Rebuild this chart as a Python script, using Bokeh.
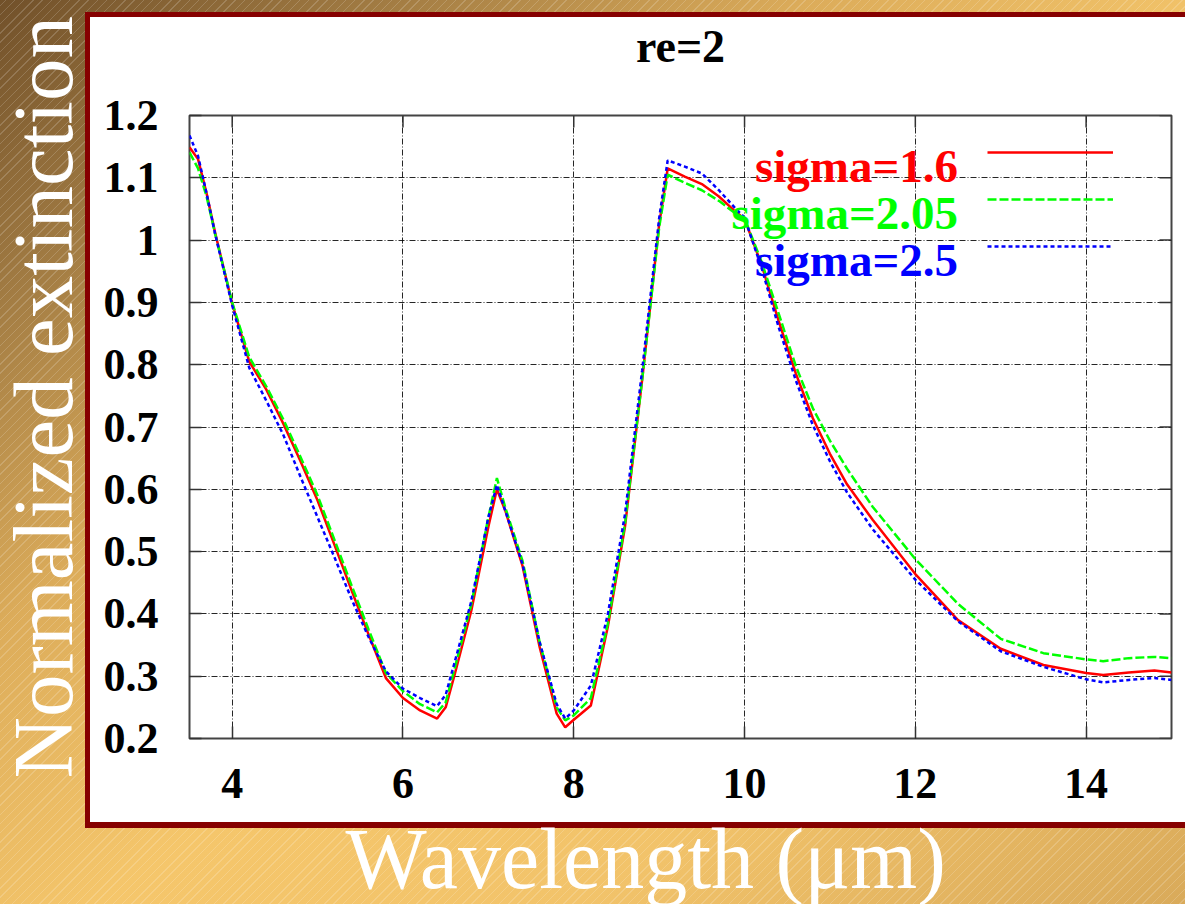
import math
from bokeh.plotting import figure
from bokeh.models import (ColumnDataSource, FixedTicker, PrintfTickFormatter,
                          Legend, LegendItem, Label, Title)
from bokeh.embed import file_html
from bokeh.resources import INLINE

# Normalized extinction spectra for effective radius re=2 and three size-distribution widths
wavelength = [3.5, 3.6, 3.7, 3.8, 4.0, 4.2, 4.4, 4.6, 4.8, 5.0, 5.2, 5.4, 5.6, 5.8,
              6.0, 6.2, 6.4, 6.5, 6.6, 6.8, 7.0, 7.1, 7.2, 7.4, 7.6, 7.8, 7.9,
              8.0, 8.2, 8.4, 8.6, 8.8, 9.0, 9.1, 9.3, 9.5, 9.7, 9.9,
              10.0, 10.2, 10.4, 10.6, 10.8, 11.0, 11.2, 11.5, 12.0, 12.5, 13.0, 13.5,
              14.0, 14.2, 14.5, 14.8, 15.0]

ext_sigma_1_6 = [1.149, 1.130, 1.075, 1.012, 0.898, 0.805, 0.760, 0.705, 0.645, 0.582,
                 0.510, 0.437, 0.366, 0.297, 0.265, 0.245, 0.232, 0.250, 0.300, 0.405,
                 0.540, 0.600, 0.565, 0.477, 0.347, 0.240, 0.218, 0.230, 0.253, 0.380,
                 0.540, 0.775, 1.025, 1.115, 1.102, 1.090, 1.070, 1.045, 1.034, 0.960,
                 0.870, 0.786, 0.714, 0.657, 0.608, 0.551, 0.464, 0.390, 0.344, 0.318,
                 0.305, 0.302, 0.306, 0.309, 0.306]

ext_sigma_2_05 = [1.141, 1.115, 1.070, 1.010, 0.900, 0.812, 0.765, 0.712, 0.652, 0.590,
                  0.518, 0.445, 0.374, 0.305, 0.276, 0.255, 0.242, 0.258, 0.310, 0.415,
                  0.555, 0.618, 0.570, 0.485, 0.355, 0.250, 0.229, 0.237, 0.265, 0.385,
                  0.545, 0.775, 1.020, 1.105, 1.092, 1.080, 1.063, 1.042, 1.035, 0.965,
                  0.882, 0.798, 0.730, 0.678, 0.633, 0.572, 0.488, 0.416, 0.360, 0.337,
                  0.327, 0.324, 0.329, 0.331, 0.329]

ext_sigma_2_5 = [1.168, 1.135, 1.075, 1.010, 0.895, 0.795, 0.742, 0.687, 0.620, 0.555,
                 0.490, 0.423, 0.362, 0.308, 0.280, 0.265, 0.252, 0.270, 0.320, 0.420,
                 0.555, 0.607, 0.565, 0.480, 0.355, 0.255, 0.232, 0.245, 0.285, 0.400,
                 0.560, 0.790, 1.035, 1.128, 1.118, 1.107, 1.080, 1.050, 1.036, 0.955,
                 0.860, 0.775, 0.703, 0.645, 0.595, 0.536, 0.455, 0.388, 0.340, 0.315,
                 0.295, 0.290, 0.294, 0.297, 0.294]

series_labels = ["sigma=1.6", "sigma=2.05", "sigma=2.5"]
series_colors = ["#ff0000", "#00ff00", "#0000ff"]
series_dashes = ["solid", "9 3", "4 3"]

x_ticks = [4, 6, 8, 10, 12, 14]
y_ticks = [0.2, 0.3, 0.4, 0.5, 0.6, 0.7, 0.8, 0.9, 1.0, 1.1, 1.2]

title_text = "re=2"
x_title = "Wavelength (\u03bcm)"
y_title = "Normalized extinction"

SERIF = "Liberation Serif"

# the canvas is a little larger than the window and pulled up/left,
# so the big axis titles can run off the edges
SHIFT_X, SHIFT_Y = 20, 30

source = ColumnDataSource(dict(wl=wavelength, s16=ext_sigma_1_6,
                               s205=ext_sigma_2_05, s25=ext_sigma_2_5))

p = figure(width=1185 + SHIFT_X, height=904 + SHIFT_Y,
           x_range=(3.5, 15), y_range=(0.2, 1.2),
           output_backend="svg", toolbar_location=None,
           min_border_left=189 + SHIFT_X, min_border_right=14,
           min_border_top=115 + SHIFT_Y, min_border_bottom=166)

card = f"{90 + SHIFT_X}px {17 + SHIFT_Y}px / 1200px 805px no-repeat"
rim = f"{85 + SHIFT_X}px {12 + SHIFT_Y}px / 1200px 816px no-repeat"
p.styles = {
    "margin-left": f"-{SHIFT_X}px",
    "margin-top": f"-{SHIFT_Y}px",
    "background": (
        f"linear-gradient(#ffffff, #ffffff) {card}, "
        f"linear-gradient(#860000, #860000) {rim}, "
        "repeating-linear-gradient(135deg, rgba(255,255,255,0.17) 0px, "
        "rgba(255,255,255,0.17) 1px, rgba(255,255,255,0) 1px, rgba(255,255,255,0) 6.5px), "
        "linear-gradient(to bottom right, #6a4a26 0%, #a07a42 18%, #dcac5a 36%, "
        "#f5c66b 55%, #f2c36a 75%, #d9aa5a 100%)"
    ),
}
p.border_fill_alpha = 0
p.background_fill_alpha = 0
p.outline_line_color = "#444444"
p.outline_line_width = 2

# axes
p.xaxis.ticker = FixedTicker(ticks=x_ticks)
p.yaxis.ticker = FixedTicker(ticks=y_ticks)
p.yaxis.formatter = PrintfTickFormatter(format="%g")
p.xgrid.ticker = FixedTicker(ticks=x_ticks)
p.ygrid.ticker = FixedTicker(ticks=y_ticks)

for ax in list(p.xaxis) + list(p.yaxis):
    ax.major_tick_in = 12
    ax.major_tick_out = 0
    ax.major_tick_line_color = "#333333"
    ax.major_tick_line_width = 1.5
    ax.minor_tick_line_color = None
    ax.axis_line_color = None
    ax.major_label_text_font = SERIF
    ax.major_label_text_font_style = "bold"
    ax.major_label_text_font_size = "44px"
    ax.major_label_text_color = "black"
p.yaxis.major_label_standoff = 31
p.xaxis.major_label_standoff = 30

for g in (p.xgrid, p.ygrid):
    g.grid_line_color = "black"
    g.grid_line_alpha = 0.85
    g.grid_line_width = 1
    g.grid_line_dash = "6 2 1 2"

# inward tick marks along the top and right edges of the frame
p.ray(x=x_ticks, y=[p.y_range.end] * len(x_ticks), length=12, length_units="screen",
      angle=-math.pi / 2, line_color="#333333", line_width=1.5)
p.ray(x=[p.x_range.end] * len(y_ticks), y=y_ticks, length=12, length_units="screen",
      angle=math.pi, line_color="#333333", line_width=1.5)

# spectra
renderers = []
for col, color, dash in zip(["s16", "s205", "s25"], series_colors, series_dashes):
    r = p.line("wl", col, source=source, line_color=color, line_width=2.5, line_dash=dash)
    renderers.append(r)

# key: line samples on the right, names drawn to their left
legend = Legend(items=[LegendItem(label=" ", renderers=[r]) for r in renderers],
                location="top_right", margin=27, padding=0, spacing=27,
                glyph_width=126, glyph_height=20, label_height=20, label_width=31,
                label_standoff=0, label_text_font_size="1px",
                border_line_color=None, background_fill_alpha=0)
p.add_layout(legend)

legend_baselines = [1.1196, 1.044, 0.968]
for txt, color, yb in zip(series_labels, series_colors, legend_baselines):
    p.add_layout(Label(x=12.5, y=yb, text=txt, text_align="right",
                       text_baseline="alphabetic", text_color=color,
                       text_font=SERIF, text_font_style="bold", text_font_size="47px"))

# titles
p.title.text = title_text
p.title.align = "center"
p.title.vertical_align = "bottom"
p.title.standoff = 87
p.title.text_font = SERIF
p.title.text_font_style = "bold"
p.title.text_font_size = "46px"
p.title.text_color = "black"

# blank gap between the x tick labels and the x axis title
p.add_layout(Title(text=" ", text_font_size="1px", standoff=14), "below")
p.add_layout(Title(text=x_title, align="left", offset=156, vertical_align="top",
                   standoff=-14, text_font=SERIF, text_font_style="normal",
                   text_font_size="86px", text_color="white"), "below")
p.add_layout(Title(text=y_title, align="left", offset=-40, vertical_align="bottom",
                   standoff=21, text_font=SERIF, text_font_style="normal",
                   text_font_size="85px", text_color="white"), "left")

open("out.html", "w").write(file_html(p, INLINE))
